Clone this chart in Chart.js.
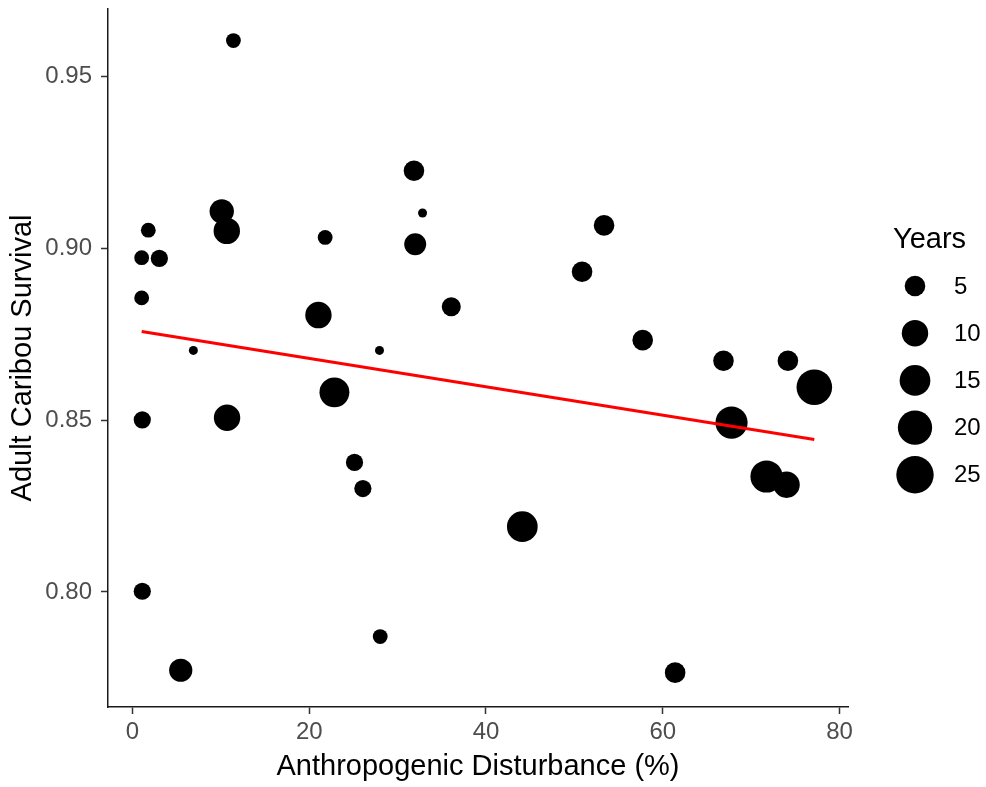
<!DOCTYPE html>
<html>
<head>
<meta charset="utf-8">
<script src="https://cdn.jsdelivr.net/npm/chart.js@4.4.1/dist/chart.umd.min.js"></script>
<style>
  html, body { margin: 0; padding: 0; background: #fff; }
  #wrap { width: 986px; height: 787px; position: relative; }
</style>
</head>
<body>
<div id="wrap"><canvas id="myChart"></canvas></div>
<script>
//Data
let disturbance = [11.42, 1.79, 1.04, 3.04, 1.04, 10.10, 10.67, 21.80, 31.85, 32.82, 31.99, 21.04, 36.07, 6.89, 27.95, 22.85, 1.11,
  10.70, 25.12, 26.07, 1.11, 28.03, 5.46, 53.36, 50.87, 57.73, 66.87, 74.16, 77.15, 67.78, 71.74, 74.01, 44.11, 61.40];
let survival = [0.9605, 0.9053, 0.8973, 0.8971, 0.8856, 0.9108, 0.9051, 0.9032, 0.9226, 0.9103, 0.9012, 0.8806, 0.8830, 0.8703, 0.8703, 0.8581, 0.8501,
  0.8507, 0.8377, 0.8301, 0.8002, 0.7870, 0.7772, 0.9067, 0.8932, 0.8733, 0.8673, 0.8673, 0.8596, 0.8493, 0.8336, 0.8312, 0.8190, 0.7765];
let years = [2, 2, 2, 3, 2, 8, 10, 2, 5, 1, 6, 10, 4, 1, 1, 14, 3,
  10, 3, 3, 3, 2, 7, 5, 5, 5, 5, 5, 22, 17, 17, 10, 15, 5];

// fitted line (lm) at its two ends
let fitX = [1.04, 77.15];
let fitY = [0.8758, 0.8444];

let xTicks = [0, 20, 40, 60, 80];
let yTicks = [0.80, 0.85, 0.90, 0.95];
let legendYears = [5, 10, 15, 20, 25];

// size scale: diameter grows with sqrt of years
function dotRadius(v) {
  return (9 + 29 * Math.sqrt(Math.max(v - 1, 0) / 25)) / 2;
}

Chart.defaults.font.family = "'Liberation Sans', Arial, sans-serif";

let sizeLegend = {
  id: 'sizeLegend',
  afterDraw(chart) {
    let ctx = chart.ctx;
    let x0 = chart.chartArea.right;
    ctx.save();
    ctx.fillStyle = '#000';
    ctx.textAlign = 'left';
    ctx.textBaseline = 'alphabetic';
    ctx.font = "29px 'Liberation Sans'";
    ctx.fillText('Years', x0 + 45, 248);
    ctx.font = "24px 'Liberation Sans'";
    ctx.textBaseline = 'middle';
    legendYears.forEach(function(v, i) {
      let cy = 286 + i * 47.2;
      ctx.beginPath();
      ctx.arc(x0 + 67, cy, dotRadius(v), 0, Math.PI * 2);
      ctx.fill();
      ctx.fillText(String(v), x0 + 106, cy + 1);
    });
    ctx.restore();
  }
};

var ctx = document.getElementById('myChart').getContext('2d');
var myChart = new Chart(ctx, {
  type: 'bubble',
  data: {
    datasets: [{
      type: 'line',
      label: 'fit',
      data: fitX.map((x, i) => ({x: x, y: fitY[i]})),
      borderColor: '#FF0000',
      borderWidth: 3,
      pointRadius: 0,
      fill: false,
      order: 0
    }, {
      label: 'Years',
      data: disturbance.map((x, i) => ({x: x, y: survival[i], r: dotRadius(years[i])})),
      backgroundColor: '#000',
      borderWidth: 0,
      order: 1
    }]
  },
  options: {
    responsive: true,
    maintainAspectRatio: false,
    animation: false,
    layout: { autoPadding: false, padding: { left: 0, right: 138, top: 9, bottom: 0 } },
    plugins: { legend: { display: false }, tooltip: { enabled: false } },
    scales: {
      x: {
        type: 'linear',
        min: -2.77,
        max: 80.96,
        afterBuildTicks: s => { s.ticks = xTicks.map(v => ({value: v})); },
        afterFit: s => { s.height = 80; s.paddingLeft = 0; s.paddingRight = 0; },
        ticks: { color: '#4D4D4D', font: { size: 24 }, padding: 4, autoSkip: false, maxRotation: 0, callback: v => String(v) },
        grid: { drawOnChartArea: false, drawTicks: true, tickLength: 7, tickColor: '#333333', tickWidth: 1.5 },
        border: { display: true, color: '#1a1a1a', width: 1.5 },
        title: { display: true, text: 'Anthropogenic Disturbance (%)', color: '#000', font: { size: 29 }, padding: { top: 0, bottom: 3 } }
      },
      y: {
        type: 'linear',
        min: 0.7665,
        max: 0.9697,
        afterBuildTicks: s => { s.ticks = yTicks.map(v => ({value: v})); },
        afterFit: s => { s.width = 108; s.paddingTop = 0; s.paddingBottom = 0; },
        ticks: { color: '#4D4D4D', font: { size: 24 }, padding: 9, autoSkip: false, callback: v => v.toFixed(2) },
        grid: { drawOnChartArea: false, drawTicks: true, tickLength: 7, tickColor: '#333333', tickWidth: 1.5 },
        border: { display: true, color: '#1a1a1a', width: 1.5 },
        title: { display: true, text: 'Adult Caribou Survival', color: '#000', font: { size: 29 }, padding: { top: 6, bottom: 0 } }
      }
    }
  },
  plugins: [sizeLegend]
});
</script>
</body>
</html>
